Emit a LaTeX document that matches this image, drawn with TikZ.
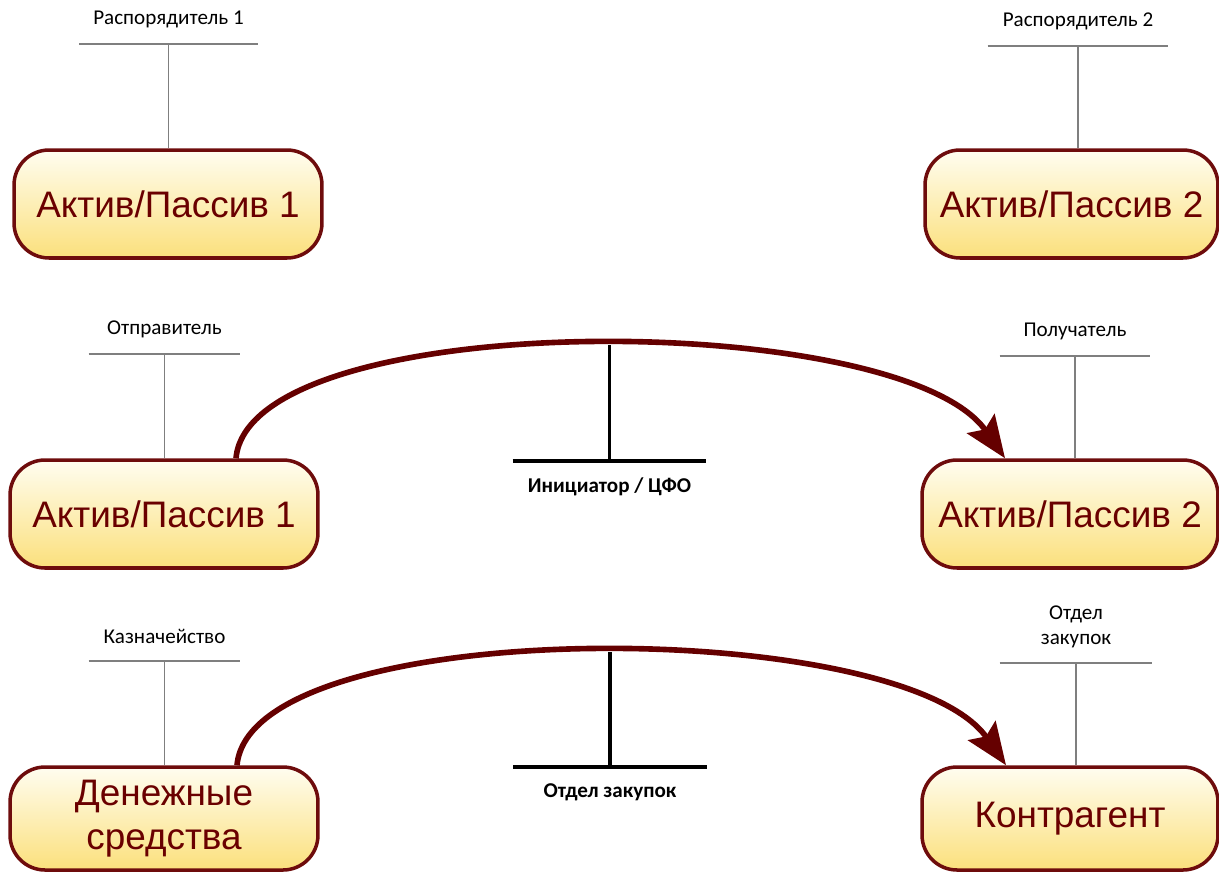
\documentclass[tikz,border=0pt]{standalone}
\usepackage{fontspec}
\setmainfont{Carlito}
\newfontfamily\boxfont{Liberation Sans}
\usetikzlibrary{arrows.meta}
\definecolor{flowred}{HTML}{650000}
\definecolor{boxline}{HTML}{6E0C0C}
\definecolor{boxtext}{HTML}{6A0000}
\definecolor{boxtop}{HTML}{FFFDF0}
\definecolor{boxbot}{HTML}{FBE07C}
\definecolor{tagline}{HTML}{7F7F7F}
\begin{document}
\begin{tikzpicture}[
        x=0.02cm, y=-0.02cm,
        every node/.append style={inner sep=0pt},
        tag/.style={draw=tagline, line width=0.6pt},
        barline/.style={draw=black, line width=1.8pt},
        asset/.style={draw=boxline, line width=2pt, rounded corners=0.7cm,
            top color=boxtop, bottom color=boxbot, minimum height=2.16cm,
            text=boxtext, align=center,
            font=\boxfont\fontsize{21}{25}\selectfont},
        owner/.style={minimum height=0.96cm, anchor=south, align=center,
            font=\fontsize{12}{14}\selectfont,
            append after command={(\tikzlastnode.south west) edge[tag] (\tikzlastnode.south east)}},
        centre/.style={minimum height=1cm, minimum width=3.86cm, anchor=north,
            font=\bfseries\fontsize{12}{14}\selectfont,
            append after command={(\tikzlastnode.north west) edge[barline] (\tikzlastnode.north east)}},
        flow/.style={draw=flowred, line width=3.2pt,
            -{Stealth[length=24pt,width=19pt,inset=4pt]}}
    ]
    \useasboundingbox (0,0) rectangle (1219,873);
    % top row
    \node[asset, minimum width=6.16cm] (ap1) at (168,204) {Актив/Пассив 1};
    \node[asset, minimum width=5.86cm] (ap2) at (1071.5,204) {Актив/Пассив 2};
    \node[owner, minimum width=3.55cm] (own1) at (168.5,44) {Распорядитель 1};
    \node[owner, minimum width=3.6cm] (own2) at (1078,46) {Распорядитель 2};
    \draw[tag] (own1.south) -- (own1.south |- ap1.north);
    \draw[tag] (own2.south) -- (own2.south |- ap2.north);

    % middle row
    \node[asset, minimum width=6.16cm] (snd) at (164,514) {Актив/Пассив 1};
    \node[asset, minimum width=5.92cm] (rcv) at (1070,514) {Актив/Пассив 2};
    \node[owner, minimum width=3.02cm] (sndlbl) at (164.5,354) {Отправитель};
    \node[owner, minimum width=3cm] (rcvlbl) at (1075,356) {Получатель};
    \draw[tag] (sndlbl.south) -- (sndlbl.south |- snd.north);
    \draw[tag] (rcvlbl.south) -- (rcvlbl.south |- rcv.north);
    \draw[flow] ([xshift=1.44cm]snd.north) .. controls +(14,-152) and +(-105,-150) ..
        coordinate[pos=0.5] (top1) ([xshift=-1.3cm]rcv.north);
    \node[centre] (init) at (609.5,461) {Инициатор / ЦФО};
    \draw[barline] (init.north) -- (init.north |- top1);

    % bottom row
    \node[asset, minimum width=6.16cm, minimum height=2.06cm] (cash) at (164,818.5) {Денежные\\средства};
    \node[asset, minimum width=5.92cm, minimum height=2.06cm] (ctr) at (1070,818.5) {Контрагент};
    \node[owner, minimum width=3.02cm] (treas) at (164.5,661) {Казначейство};
    \node[owner, minimum width=3.04cm, minimum height=1.44cm] (purch) at (1076,663) {Отдел\\закупок};
    \draw[tag] (treas.south) -- (treas.south |- cash.north);
    \draw[tag] (purch.south) -- (purch.south |- ctr.north);
    \draw[flow] ([xshift=1.46cm]cash.north) .. controls +(14,-152) and +(-105,-150) ..
        coordinate[pos=0.5] (top2) ([xshift=-1.28cm]ctr.north);
    \node[centre] (dept) at (610,767) {Отдел закупок};
    \draw[barline] (dept.north) -- (dept.north |- top2);
\end{tikzpicture}
\end{document}
